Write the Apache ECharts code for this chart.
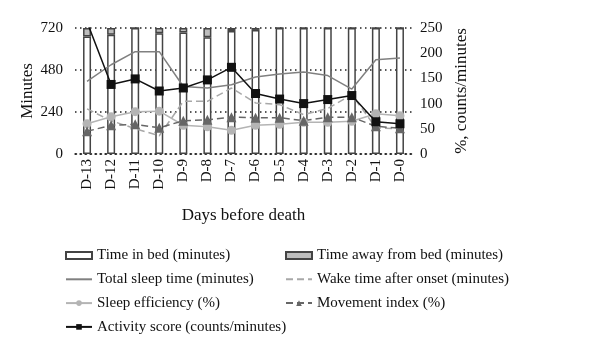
<!DOCTYPE html>
<html>
<head>
<meta charset="utf-8">
<script src="https://cdn.jsdelivr.net/npm/echarts@6/dist/echarts.min.js"></script>
<style>html,body{margin:0;padding:0;background:#fff;}#c{width:600px;height:358px;}</style>
</head>
<body>
<div id="c"></div>
<script>
var days = ['D-13','D-12','D-11','D-10','D-9','D-8','D-7','D-6','D-5','D-4','D-3','D-2','D-1','D-0'];
var timeAway = [49, 38, 0, 30, 25, 53, 17, 11, 0, 0, 0, 0, 0, 0];
var timeInBed = [671, 682, 720, 690, 695, 667, 703, 709, 720, 720, 720, 720, 720, 720];
var totalSleep = [415, 510, 585, 585, 386, 377, 396, 440, 457, 468, 448, 371, 538, 548];
var wakeAfterOnset = [258, 190, 145, 104, 301, 301, 377, 292, 282, 225, 260, 339, 150, 144];
var sleepEfficiency = [60, 74, 84, 85, 57, 54, 47, 57, 59, 63, 63, 65, 80, 76];
var movementIndex = [45, 57, 59, 52, 66, 68, 73, 72, 72, 66, 73, 73, 55, 51];
var activityScore = [262, 138, 149, 125, 131, 147, 172, 120, 109, 100, 108, 116, 64, 60];
var minuteTicks = [0, 240, 480, 720];
var rightTicks = [0, 50, 100, 150, 200, 250];

var FONT = 'Liberation Serif';
var chart = echarts.init(document.getElementById('c'));
var txt = {fontFamily: FONT, fontSize: 15, color: '#111'};
var noSym = {opacity: 0};
chart.setOption({
  animation: false,
  textStyle: {fontFamily: FONT},
  grid: {left: 75, right: 188, top: 28, bottom: 204, containLabel: false},
  legend: [
    {
      orient: 'vertical', left: 60, top: 243, itemWidth: 26, itemHeight: 7, itemGap: 8.8,
      textStyle: txt,
      data: [
        {name: 'Time in bed (minutes)', icon: 'rect'},
        {name: 'Total sleep time (minutes)', itemStyle: noSym},
        {name: 'Sleep efficiency (%)'},
        {name: 'Activity score (counts/minutes)'}
      ]
    },
    {
      orient: 'vertical', left: 280, top: 243, itemWidth: 26, itemHeight: 7, itemGap: 8.8,
      textStyle: txt,
      data: [
        {name: 'Time away from bed (minutes)', icon: 'rect'},
        {name: 'Wake time after onset (minutes)', itemStyle: noSym},
        {name: 'Movement index (%)'}
      ]
    }
  ],
  xAxis: {
    type: 'category', data: days, boundaryGap: true,
    name: 'Days before death', nameLocation: 'middle', nameGap: 53,
    nameTextStyle: {fontFamily: FONT, fontSize: 17, color: '#111'},
    axisLine: {lineStyle: {color: '#222', type: [1.5, 3.5], width: 1.5}},
    axisTick: {show: false},
    axisLabel: {rotate: 90, margin: 5, fontFamily: FONT, fontSize: 15, color: '#111'}
  },
  yAxis: [
    {
      type: 'value', min: minuteTicks[0], max: minuteTicks[minuteTicks.length - 1], interval: minuteTicks[1] - minuteTicks[0],
      name: 'Minutes', nameLocation: 'middle', nameGap: 39, nameRotate: 90, nameMoveOverlap: false,
      nameTextStyle: {fontFamily: FONT, fontSize: 17, color: '#111'},
      axisLine: {show: false}, axisTick: {show: false},
      axisLabel: {margin: 12, fontFamily: FONT, fontSize: 15, color: '#111'},
      splitLine: {show: true, lineStyle: {color: '#222', type: [1.5, 3.5], width: 1.5}}
    },
    {
      type: 'value', min: rightTicks[0], max: rightTicks[rightTicks.length - 1], interval: rightTicks[1] - rightTicks[0],
      name: '%, counts/minutes', nameLocation: 'middle', nameGap: 41, nameRotate: 90,
      nameTextStyle: {fontFamily: FONT, fontSize: 17, color: '#111'},
      axisLine: {show: false}, axisTick: {show: false},
      axisLabel: {margin: 8, fontFamily: FONT, fontSize: 15, color: '#111'},
      splitLine: {show: false}
    }
  ],
  series: [
    {
      name: 'Time in bed (minutes)', type: 'bar', stack: 'bed', yAxisIndex: 0, data: timeInBed,
      barWidth: 8, itemStyle: {color: '#fff', borderColor: '#444', borderWidth: 1.5}, z: 2
    },
    {
      name: 'Time away from bed (minutes)', type: 'bar', stack: 'bed', yAxisIndex: 0, data: timeAway,
      barWidth: 8, itemStyle: {color: '#bdbdbd', borderColor: '#444', borderWidth: 1.5}, z: 2
    },
    {
      name: 'Total sleep time (minutes)', type: 'line', yAxisIndex: 0, data: totalSleep,
      symbol: 'circle', showSymbol: false, lineStyle: {color: '#808080', width: 1.5}, itemStyle: {color: '#808080'}, z: 3
    },
    {
      name: 'Wake time after onset (minutes)', type: 'line', yAxisIndex: 0, data: wakeAfterOnset,
      symbol: 'circle', showSymbol: false, lineStyle: {color: '#a8a8a8', width: 1.5, type: [7, 4]}, itemStyle: {color: '#a8a8a8'}, z: 3
    },
    {
      name: 'Sleep efficiency (%)', type: 'line', yAxisIndex: 1, data: sleepEfficiency,
      symbol: 'circle', symbolSize: 9, lineStyle: {color: '#b4b4b4', width: 1.5}, itemStyle: {color: '#b4b4b4'}, z: 4
    },
    {
      name: 'Movement index (%)', type: 'line', yAxisIndex: 1, data: movementIndex,
      symbol: 'triangle', symbolSize: 10, lineStyle: {color: '#666', width: 1.5, type: [7, 4]}, itemStyle: {color: '#666'}, z: 4
    },
    {
      name: 'Activity score (counts/minutes)', type: 'line', yAxisIndex: 1, data: activityScore,
      symbol: 'rect', symbolSize: 9, clip: true, lineStyle: {color: '#111', width: 1.5}, itemStyle: {color: '#111'}, z: 5
    }
  ]
});
</script>
</body>
</html>
